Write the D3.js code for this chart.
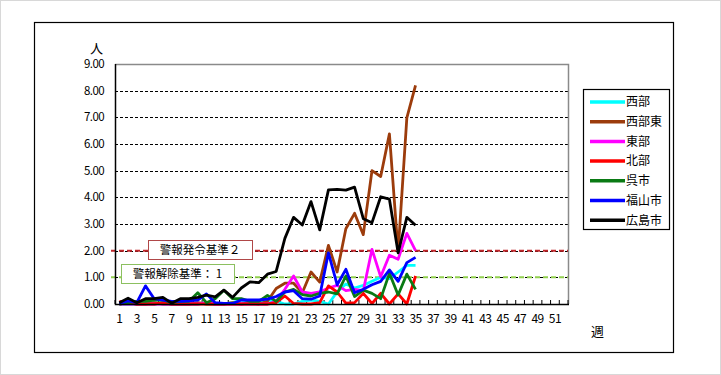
<!DOCTYPE html>
<html>
  <head>
    <meta charset="UTF-8">
    <title>週別定点当たり報告数</title>
    <style>
      body { margin: 0; background: #fff; }
      text { font-family: "Noto Sans CJK JP", "DejaVu Sans", sans-serif; fill: #000; }
    </style>
  </head>
  <body>
    <svg></svg>
    <script src="https://d3js.org/d3.v7.min.js"></script>
    <script>

// weeks on the x axis (1..52), only odd ones get a label
var weeks = d3.range(1, 53);
var yTicks = [0, 1, 2, 3, 4, 5, 6, 7, 8, 9];

// series names (legend order)
var names = ["西部", "西部東", "東部", "北部", "呉市", "福山市", "広島市"];
var colors = ["#00ffff", "#9c3c0c", "#ff00ff", "#ff0000", "#0a7a14", "#0000ff", "#000000"];

// values per week, weeks 1..35
var seibu     = [0,0,0,0,0,0.05,0,0,0,0,0.05,0,0,0.05,0.15,0.1,0.1,0.15,0.1,0,0,0.1,0.15,0.1,0,0.45,0.75,0.6,0.7,0.85,1.0,0.95,1.2,1.45,1.45];
var seibuHigashi = [0,0.05,0,0,0.05,0,0,0,0,0.05,0,0,0,0.05,0,0.05,0,0.1,0.58,0.78,0.78,0.42,1.2,0.82,2.2,1.2,2.82,3.4,2.6,5.0,4.78,6.38,1.95,6.98,8.2];
var tobu      = [0,0,0,0,0,0,0,0,0,0,0.05,0,0,0,0,0,0,0,0.1,0.55,1.05,0.45,0.4,0.45,0.6,0.7,0.5,0.55,0.5,2.05,1.02,1.83,1.68,2.65,2.0];
var hokubu    = [0.1,0.05,0,0,0,0.05,0,0,0,0,0,0,0,0,0,0,0,0,0.05,0.3,0.02,0,0,0.05,0.68,0.45,0.03,0.05,0.4,0.02,0.4,0,0.38,0,1.05];
var kure      = [0,0.05,0.1,0.1,0.15,0.15,0.05,0.1,0.1,0.42,0.05,0.2,0.52,0.2,0.2,0.1,0.1,0.32,0.1,0.45,0.55,0.35,0.3,0.4,0.45,0.38,1.05,0.28,0.52,0.4,0.2,1.15,0.34,1.12,0.55];
var fukuyama  = [0.02,0.12,0.05,0.68,0.2,0.15,0.1,0.1,0.12,0.15,0.38,0.05,0.02,0.02,0.15,0.15,0.15,0.18,0.28,0.45,0.5,0.2,0.18,0.3,1.92,0.72,1.3,0.42,0.55,0.72,0.85,1.28,0.85,1.55,1.75];
var hiroshima = [0.05,0.22,0.05,0.2,0.2,0.25,0.03,0.2,0.2,0.25,0.33,0.27,0.52,0.25,0.6,0.83,0.8,1.12,1.22,2.46,3.25,2.96,3.84,2.78,4.28,4.3,4.27,4.38,3.2,3.05,4.02,3.93,1.92,3.25,2.95];

var series = [seibu, seibuHigashi, tobu, hokubu, kure, fukuyama, hiroshima];

// alert levels
var thresholds = [
  {"value": 2, "label": "警報発令基準２", "color": "#c0262a", "box": "#b04848"},
  {"value": 1, "label": "警報解除基準： 1", "color": "#92d050", "box": "#8cc060"}
];

var svg = d3.select("svg")
  .attr("width", 721)
  .attr("height", 375);

// faint outer frame and the chart border
svg.append("rect")
  .attr("x", 0.5).attr("y", 0.5).attr("width", 720).attr("height", 374)
  .attr("fill", "#fff").attr("stroke", "#d8d8d8");
svg.append("rect")
  .attr("x", 34.5).attr("y", 22.5).attr("width", 639).attr("height", 330)
  .attr("fill", "#fff").attr("stroke", "#000").attr("stroke-width", 1.2);

var plot = {left: 115, right: 568, top: 64, bottom: 304};

var x = d3.scaleBand()
  .domain(weeks)
  .range([plot.left, plot.right]);

var y = d3.scaleLinear()
  .domain([0, 9])
  .range([plot.bottom, plot.top]);

function cx(w) { return x(w) + x.bandwidth() / 2; }

// gridlines
svg.append("g")
  .selectAll("line")
  .data(yTicks.filter(function(d){ return d > 0 && d < 9; }))
  .enter().append("line")
    .attr("x1", plot.left).attr("x2", plot.right)
    .attr("y1", function(d){ return Math.round(y(d)) + 0.5; })
    .attr("y2", function(d){ return Math.round(y(d)) + 0.5; })
    .attr("stroke", "#000")
    .attr("stroke-width", 1)
    .attr("stroke-dasharray", "3,2");

// top and right frame of the plot area
svg.append("path")
  .attr("d", "M" + plot.left + "," + (plot.top + 0.5) + "H" + (plot.right + 0.5) + "V" + plot.bottom)
  .attr("fill", "none")
  .attr("stroke", "#8a8a8a")
  .attr("stroke-width", 1.5);

// y axis labels
svg.append("g")
  .selectAll("text")
  .data(yTicks)
  .enter().append("text")
    .attr("x", 104)
    .attr("y", function(d){ return y(d); })
    .attr("dy", "0.36em")
    .attr("text-anchor", "end")
    .attr("font-size", "11.5px")
    .attr("letter-spacing", "-0.6px")
    .text(function(d){ return d3.format(".2f")(d); });

// x axis tick marks (inside) and labels
svg.append("g")
  .selectAll("line")
  .data(weeks.concat([53]))
  .enter().append("line")
    .attr("x1", function(d){ return d == 53 ? plot.right : x(d); })
    .attr("x2", function(d){ return d == 53 ? plot.right : x(d); })
    .attr("y1", plot.bottom - 4)
    .attr("y2", plot.bottom)
    .attr("stroke", "#000")
    .attr("stroke-width", 1);

svg.append("g")
  .selectAll("text")
  .data(weeks.filter(function(d){ return d % 2 == 1; }))
  .enter().append("text")
    .attr("x", function(d){ return cx(d); })
    .attr("y", 323)
    .attr("text-anchor", "middle")
    .attr("font-size", "12px")
    .attr("letter-spacing", "-0.6px")
    .text(function(d){ return d; });

// axis titles
svg.append("text").attr("x", 90).attr("y", 53).attr("font-size", "13px").text("人");
svg.append("text").attr("x", 591).attr("y", 336).attr("font-size", "13px").text("週");

// threshold lines
svg.append("g")
  .selectAll("line")
  .data(thresholds)
  .enter().append("line")
    .attr("x1", 111).attr("x2", plot.right)
    .attr("y1", function(d){ return y(d.value); })
    .attr("y2", function(d){ return y(d.value); })
    .attr("stroke", function(d){ return d.color; })
    .attr("stroke-width", 2)
    .attr("stroke-dasharray", "5,3");

// series lines
var line = d3.line()
  .x(function(d, i){ return cx(weeks[i]); })
  .y(function(d){ return y(d); });

svg.append("g")
  .selectAll("path")
  .data(series)
  .enter().append("path")
    .attr("d", line)
    .attr("fill", "none")
    .attr("stroke", function(d, i){ return colors[i]; })
    .attr("stroke-width", 2.8)
    .attr("stroke-linejoin", "round");

// left and bottom axis lines
svg.append("path")
  .attr("d", "M" + (plot.left + 0.5) + "," + plot.top + "V" + (plot.bottom + 0.5) + "H" + (plot.right + 1))
  .attr("fill", "none")
  .attr("stroke", "#000")
  .attr("stroke-width", 1.5);

// threshold label boxes
var boxes = [
  {"x": 148, "y": 240, "w": 104, "h": 19},
  {"x": 121, "y": 264, "w": 113, "h": 19}
];
var box = svg.append("g")
  .selectAll("g")
  .data(thresholds)
  .enter().append("g");
box.append("rect")
  .attr("x", function(d, i){ return boxes[i].x + 0.5; })
  .attr("y", function(d, i){ return boxes[i].y + 0.5; })
  .attr("width", function(d, i){ return boxes[i].w; })
  .attr("height", function(d, i){ return boxes[i].h; })
  .attr("fill", "#fff")
  .attr("stroke", function(d){ return d.box; })
  .attr("stroke-width", 1);
box.append("text")
  .attr("x", function(d, i){ return boxes[i].x + boxes[i].w / 2; })
  .attr("y", function(d, i){ return boxes[i].y + boxes[i].h / 2; })
  .attr("dy", "0.36em")
  .attr("text-anchor", "middle")
  .attr("font-size", "11.5px")
  .text(function(d){ return d.label; });

// legend
var legend = svg.append("g");
legend.append("rect")
  .attr("x", 583.5).attr("y", 89.5).attr("width", 86).attr("height", 140)
  .attr("fill", "#fff").attr("stroke", "#000").attr("stroke-width", 1.2);
var item = legend.selectAll("g.item")
  .data(names)
  .enter().append("g")
    .attr("class", "item")
    .attr("transform", function(d, i){ return "translate(0," + (102 + i * 19.7) + ")"; });
item.append("line")
  .attr("x1", 590).attr("x2", 625)
  .attr("stroke", function(d, i){ return colors[i]; })
  .attr("stroke-width", 3.5);
item.append("text")
  .attr("x", 626)
  .attr("dy", "0.36em")
  .attr("font-size", "12px")
  .text(function(d){ return d; });

    </script>
  </body>
</html>
